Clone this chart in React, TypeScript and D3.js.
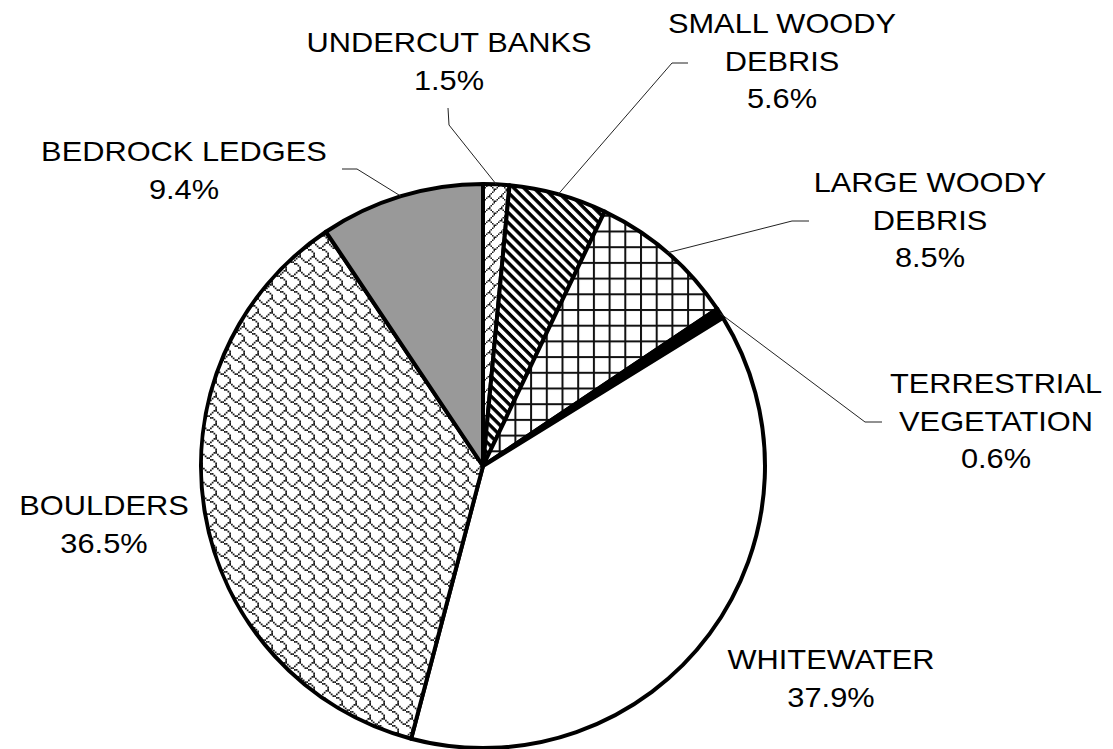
import React from 'react';
import * as d3 from 'd3';

const categories = [
  'UNDERCUT BANKS',
  'SMALL WOODY DEBRIS',
  'LARGE WOODY DEBRIS',
  'TERRESTRIAL VEGETATION',
  'WHITEWATER',
  'BOULDERS',
  'BEDROCK LEDGES',
];
const labelLines = [
  ['UNDERCUT BANKS'],
  ['SMALL WOODY', 'DEBRIS'],
  ['LARGE WOODY', 'DEBRIS'],
  ['TERRESTRIAL', 'VEGETATION'],
  ['WHITEWATER'],
  ['BOULDERS'],
  ['BEDROCK LEDGES'],
];
const values = [1.5, 5.6, 8.5, 0.6, 37.9, 36.5, 9.4];
const fills = ['url(#pBrick)', 'url(#pDiag)', 'url(#pGrid)', '#000', '#fff', 'url(#pShingle)', '#999'];

// layout (not data)
const W = 1113;
const H = 749;
const CX = 483;
const CY = 466;
const R = 282;
const LINE_H = 37.5;
const labelLayout: { x: number; y: number; elbow: [number, number][] | null }[] = [
  { x: 449, y: 52, elbow: [[448, 108], [449, 125]] },
  { x: 782, y: 33, elbow: [[688, 63], [672, 63]] },
  { x: 930, y: 192, elbow: [[809, 221], [792, 221]] },
  { x: 996, y: 393, elbow: [[882, 422], [865, 422]] },
  { x: 831, y: 669, elbow: null },
  { x: 104, y: 515, elbow: null },
  { x: 184, y: 161, elbow: [[342, 169], [357, 169]] },
];

const shingleBits = [0x03, 0x84, 0x48, 0x30, 0x0c, 0x02, 0x01, 0x01];
const brickBits = [0x01, 0x02, 0x04, 0x08, 0x18, 0x24, 0x42, 0x81];

function BitPattern({ id, bits, px, color }: { id: string; bits: number[]; px: number; color: string }) {
  const rects: JSX.Element[] = [];
  bits.forEach((row, y) => {
    for (let x = 0; x < 8; x++) {
      if (row & (0x80 >> x)) {
        rects.push(<rect key={`${x}-${y}`} x={x * px} y={y * px} width={px} height={px} fill={color} />);
      }
    }
  });
  return (
    <pattern id={id} patternUnits="userSpaceOnUse" width={8 * px} height={8 * px}>
      <rect width={8 * px} height={8 * px} fill="#fff" />
      {rects}
    </pattern>
  );
}

export default function App() {
  const pie = d3
    .pie<number>()
    .sort(null)
    .value((d) => d)
    .startAngle(0)
    .endAngle(2 * Math.PI);
  const arcs = pie(values);
  const arc = d3.arc<d3.PieArcDatum<number>>().innerRadius(0).outerRadius(R);
  const fmt = d3.format('.1f');

  return (
    <svg
      width={W}
      height={H}
      style={{ position: 'absolute', left: 0, top: 0, background: '#fff' }}
      fontFamily="'Liberation Sans', Arial, sans-serif"
    >
      <defs>
        <BitPattern id="pShingle" bits={shingleBits} px={1.75} color="#1a1a1a" />
        <BitPattern id="pBrick" bits={brickBits} px={1.5} color="#1a1a1a" />
        <pattern id="pDiag" patternUnits="userSpaceOnUse" width={7.1} height={7.1} patternTransform="rotate(45)">
          <rect width={7.1} height={7.1} fill="#fff" />
          <rect y={0} width={7.1} height={3.4} fill="#000" />
        </pattern>
        <pattern id="pGrid" patternUnits="userSpaceOnUse" width={15.7} height={15.7}>
          <rect width={15.7} height={15.7} fill="#fff" />
          <rect x={0} y={0} width={15.7} height={2} fill="#111" />
          <rect x={0} y={0} width={2} height={15.7} fill="#111" />
        </pattern>
      </defs>
      <rect width={W} height={H} fill="#fff" />
      <g transform={`translate(${CX},${CY})`}>
        {arcs.map((a, i) => (
          <path
            key={categories[i]}
            d={arc(a) || ''}
            fill={fills[i]}
            stroke="#000"
            strokeWidth={4}
            strokeLinejoin="round"
          />
        ))}
      </g>
      {arcs.map((a, i) => {
        const lay = labelLayout[i];
        if (!lay.elbow) return null;
        const mid = (a.startAngle + a.endAngle) / 2;
        const px = CX + R * Math.sin(mid);
        const py = CY - R * Math.cos(mid);
        const pts = [...lay.elbow, [px, py]];
        return (
          <polyline
            key={'l' + i}
            points={pts.map((p) => p.join(',')).join(' ')}
            fill="none"
            stroke="#222"
            strokeWidth={1}
          />
        );
      })}
      {arcs.map((a, i) => {
        const lay = labelLayout[i];
        const lines = [...labelLines[i], fmt(values[i]) + '%'];
        return (
          <g key={'t' + i}>
            {lines.map((ln, j) => (
              <text
                key={j}
                transform={`translate(${lay.x},${lay.y + j * LINE_H}) scale(1.12,1)`}
                textAnchor="middle"
                fontSize={27.5}
                fill="#000"
              >
                {ln}
              </text>
            ))}
          </g>
        );
      })}
    </svg>
  );
}
